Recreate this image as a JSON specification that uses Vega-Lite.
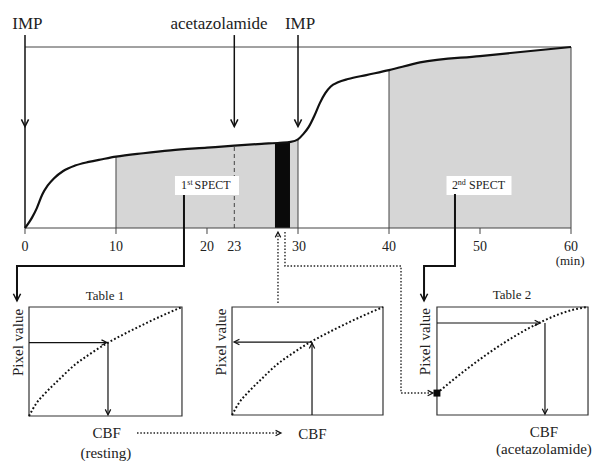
{
  "$schema": "https://vega.github.io/schema/vega-lite/v6.json",
  "width": 596,
  "height": 461,
  "autosize": {"type": "fit", "contains": "padding"},
  "padding": 0,
  "background": "white",
  "config": {"view": {"stroke": null}, "font": "Liberation Serif, Times New Roman, serif", "text": {"font": "Liberation Serif, Times New Roman, serif"}},
  "datasets": {
    "curve": [
      {"x": 0, "y": 0}, {"x": 0.5, "y": 3.5}, {"x": 0.8, "y": 6}, {"x": 1.3, "y": 11}, {"x": 1.9, "y": 18.5},
      {"x": 2.5, "y": 23.5}, {"x": 3.2, "y": 27.5}, {"x": 4.2, "y": 31.5}, {"x": 5.5, "y": 34.5}, {"x": 7, "y": 36.5},
      {"x": 8.5, "y": 38}, {"x": 10, "y": 39.4}, {"x": 13, "y": 41.3}, {"x": 16, "y": 42.9}, {"x": 20, "y": 44.4},
      {"x": 23, "y": 45.5}, {"x": 26, "y": 46.5}, {"x": 28, "y": 47.1}, {"x": 29.2, "y": 47.6}, {"x": 30, "y": 49},
      {"x": 30.6, "y": 52}, {"x": 31.2, "y": 56}, {"x": 31.8, "y": 62}, {"x": 32.4, "y": 69}, {"x": 33, "y": 74.5},
      {"x": 33.6, "y": 78.2}, {"x": 34.4, "y": 80.5}, {"x": 35.5, "y": 82.3}, {"x": 37.5, "y": 84.5}, {"x": 40, "y": 87.2},
      {"x": 43.4, "y": 91.5}, {"x": 50, "y": 95}, {"x": 55, "y": 97.5}, {"x": 60, "y": 100}
    ],
    "shade": [
      {"x": 10, "y": 39.4, "r": "a"}, {"x": 13, "y": 41.3, "r": "a"}, {"x": 16, "y": 42.9, "r": "a"}, {"x": 20, "y": 44.4, "r": "a"},
      {"x": 23, "y": 45.5, "r": "a"}, {"x": 26, "y": 46.5, "r": "a"}, {"x": 28, "y": 47.1, "r": "a"}, {"x": 29.2, "y": 47.6, "r": "a"},
      {"x": 30, "y": 49, "r": "a"},
      {"x": 40, "y": 87.2, "r": "b"}, {"x": 43.4, "y": 91.5, "r": "b"}, {"x": 50, "y": 95, "r": "b"}, {"x": 55, "y": 97.5, "r": "b"},
      {"x": 60, "y": 100, "r": "b"}
    ],
    "seg": [
      {"x": 0, "y": 100, "x2": 60, "y2": 100, "k": "thin"},
      {"x": 0, "y": 0, "x2": 60, "y2": 0, "k": "thin"},
      {"x": 60, "y": 0, "x2": 60, "y2": 100, "k": "thin"},
      {"x": 10, "y": 0, "x2": 10, "y2": 39.4, "k": "thin"},
      {"x": 30, "y": 0, "x2": 30, "y2": 49, "k": "thin"},
      {"x": 40, "y": 0, "x2": 40, "y2": 87.2, "k": "thin"},
      {"x": 0, "y": 0, "x2": 0, "y2": -3.3, "k": "thin"},
      {"x": 10, "y": 0, "x2": 10, "y2": -3.3, "k": "thin"},
      {"x": 20, "y": 0, "x2": 20, "y2": -3.3, "k": "thin"},
      {"x": 30, "y": 0, "x2": 30, "y2": -3.3, "k": "thin"},
      {"x": 40, "y": 0, "x2": 40, "y2": -3.3, "k": "thin"},
      {"x": 50, "y": 0, "x2": 50, "y2": -3.3, "k": "thin"},
      {"x": 60, "y": 0, "x2": 60, "y2": -3.3, "k": "thin"},
      {"x": 0, "y": 106.6, "x2": 0, "y2": 0, "k": "arrow"},
      {"x": 23, "y": 106.6, "x2": 23, "y2": 56.2, "k": "arrow"},
      {"x": 30, "y": 106.6, "x2": 30, "y2": 56.2, "k": "arrow"},
      {"x": 23, "y": 0, "x2": 23, "y2": 45.5, "k": "dash"},
      {"x": 0.44, "y": -63.3, "x2": 8.9, "y2": -63.3, "k": "parrow"},
      {"x": 9.12, "y": -63.3, "x2": 9.12, "y2": -103.0, "k": "parrow"},
      {"x": 31.54, "y": -103.31, "x2": 31.54, "y2": -63.2, "k": "parrow"},
      {"x": 31.54, "y": -63.0, "x2": 23.1, "y2": -63.0, "k": "parrow"},
      {"x": 45.27, "y": -52.49, "x2": 56.45, "y2": -52.49, "k": "parrow"},
      {"x": 57.14, "y": -52.49, "x2": 57.14, "y2": -102.6, "k": "parrow"}
    ],
    "paths": [
      {"p": "P1", "o": 1, "x": 17.47, "y": 18.2, "k": "solid"},
      {"p": "P1", "o": 2, "x": 17.47, "y": -21.0, "k": "solid"},
      {"p": "P1", "o": 3, "x": -0.88, "y": -21.0, "k": "solid"},
      {"p": "P1", "o": 4, "x": -0.88, "y": -40.0, "k": "solid"},
      {"p": "P2", "o": 1, "x": 47.25, "y": 18.8, "k": "solid"},
      {"p": "P2", "o": 2, "x": 47.25, "y": -21.0, "k": "solid"},
      {"p": "P2", "o": 3, "x": 43.85, "y": -21.0, "k": "solid"},
      {"p": "P2", "o": 4, "x": 43.85, "y": -40.0, "k": "solid"},
      {"p": "D1", "o": 1, "x": 27.8, "y": -41.4, "k": "dot"},
      {"p": "D1", "o": 2, "x": 27.8, "y": -2.6, "k": "dot"},
      {"p": "D2", "o": 1, "x": 28.57, "y": -2.2, "k": "dot"},
      {"p": "D2", "o": 2, "x": 28.57, "y": -21.0, "k": "dot"},
      {"p": "D2", "o": 3, "x": 41.32, "y": -21.0, "k": "dot"},
      {"p": "D2", "o": 4, "x": 41.32, "y": -91.2, "k": "dot"},
      {"p": "D2", "o": 5, "x": 44.7, "y": -91.2, "k": "dot"},
      {"p": "D3", "o": 1, "x": 12.31, "y": -113.3, "k": "dot"},
      {"p": "D3", "o": 2, "x": 28.0, "y": -113.3, "k": "dot"},
      {"p": "C1", "o": 1, "x": 0.44, "y": -103.87, "k": "curve"},
      {"p": "C1", "o": 2, "x": 1.28, "y": -96.64, "k": "curve"},
      {"p": "C1", "o": 3, "x": 2.12, "y": -91.83, "k": "curve"},
      {"p": "C1", "o": 4, "x": 3.8, "y": -83.4, "k": "curve"},
      {"p": "C1", "o": 5, "x": 5.48, "y": -75.57, "k": "curve"},
      {"p": "C1", "o": 6, "x": 7.16, "y": -69.54, "k": "curve"},
      {"p": "C1", "o": 7, "x": 8.85, "y": -64.12, "k": "curve"},
      {"p": "C1", "o": 8, "x": 10.53, "y": -59.55, "k": "curve"},
      {"p": "C1", "o": 9, "x": 12.21, "y": -55.27, "k": "curve"},
      {"p": "C1", "o": 10, "x": 13.89, "y": -51.18, "k": "curve"},
      {"p": "C1", "o": 11, "x": 15.57, "y": -47.32, "k": "curve"},
      {"p": "C1", "o": 12, "x": 17.25, "y": -43.65, "k": "curve"},
      {"p": "C2", "o": 1, "x": 22.75, "y": -103.31, "k": "curve"},
      {"p": "C2", "o": 2, "x": 23.58, "y": -96.15, "k": "curve"},
      {"p": "C2", "o": 3, "x": 24.41, "y": -91.38, "k": "curve"},
      {"p": "C2", "o": 4, "x": 26.07, "y": -83.03, "k": "curve"},
      {"p": "C2", "o": 5, "x": 27.73, "y": -75.27, "k": "curve"},
      {"p": "C2", "o": 6, "x": 29.39, "y": -69.3, "k": "curve"},
      {"p": "C2", "o": 7, "x": 31.05, "y": -63.93, "k": "curve"},
      {"p": "C2", "o": 8, "x": 32.7, "y": -59.4, "k": "curve"},
      {"p": "C2", "o": 9, "x": 34.36, "y": -55.17, "k": "curve"},
      {"p": "C2", "o": 10, "x": 36.02, "y": -51.11, "k": "curve"},
      {"p": "C2", "o": 11, "x": 37.68, "y": -47.29, "k": "curve"},
      {"p": "C2", "o": 12, "x": 39.34, "y": -43.65, "k": "curve"},
      {"p": "C3", "o": 1, "x": 45.27, "y": -91.33, "k": "curve"},
      {"p": "C3", "o": 2, "x": 46.93, "y": -84.37, "k": "curve"},
      {"p": "C3", "o": 3, "x": 48.59, "y": -77.79, "k": "curve"},
      {"p": "C3", "o": 4, "x": 50.25, "y": -71.59, "k": "curve"},
      {"p": "C3", "o": 5, "x": 51.91, "y": -65.82, "k": "curve"},
      {"p": "C3", "o": 6, "x": 53.57, "y": -60.53, "k": "curve"},
      {"p": "C3", "o": 7, "x": 55.23, "y": -55.71, "k": "curve"},
      {"p": "C3", "o": 8, "x": 56.89, "y": -51.47, "k": "curve"},
      {"p": "C3", "o": 9, "x": 58.55, "y": -47.89, "k": "curve"},
      {"p": "C3", "o": 10, "x": 60.21, "y": -45.18, "k": "curve"},
      {"p": "C3", "o": 11, "x": 61.87, "y": -43.65, "k": "curve"}
    ],
    "heads": [
      {"x": 0, "y": 56.0, "dir": "down", "k": "big"},
      {"x": 23, "y": 56.0, "dir": "down", "k": "big"},
      {"x": 30, "y": 56.0, "dir": "down", "k": "big"},
      {"x": -0.88, "y": -40.3, "dir": "down", "k": "big"},
      {"x": 43.85, "y": -40.3, "dir": "down", "k": "big"},
      {"x": 27.8, "y": -2.2, "dir": "up", "k": "small"},
      {"x": 44.84, "y": -91.2, "dir": "right", "k": "small"},
      {"x": 28.13, "y": -113.3, "dir": "right", "k": "small"},
      {"x": 9.0, "y": -63.3, "dir": "right", "k": "small"},
      {"x": 9.12, "y": -103.2, "dir": "down", "k": "small"},
      {"x": 31.54, "y": -63.6, "dir": "up", "k": "small"},
      {"x": 22.97, "y": -63.0, "dir": "left", "k": "small"},
      {"x": 56.6, "y": -52.49, "dir": "right", "k": "small"},
      {"x": 57.14, "y": -102.8, "dir": "down", "k": "small"}
    ],
    "boxes": [
      {"x": 27.47, "x2": 29.12, "y": 0, "y2": 47.0, "k": "bar"},
      {"x": 16.48, "x2": 23.52, "y": 18.23, "y2": 28.73, "k": "label"},
      {"x": 46.32, "x2": 53.46, "y": 18.23, "y2": 28.73, "k": "label"},
      {"x": 0.44, "x2": 17.25, "y": -43.65, "y2": -103.87, "k": "panel"},
      {"x": 22.75, "x2": 39.34, "y": -43.65, "y2": -103.31, "k": "panel"},
      {"x": 45.27, "x2": 61.87, "y": -43.65, "y2": -103.31, "k": "panel"},
      {"x": 44.89, "x2": 45.65, "y": -89.27, "y2": -93.13, "k": "square"}
    ],
    "labels": [
      {"x": 0.27, "y": 110.2, "text": "IMP", "role": "event"},
      {"x": 21.32, "y": 110.2, "text": "acetazolamide", "role": "event"},
      {"x": 30.22, "y": 110.2, "text": "IMP", "role": "event"},
      {"x": 0, "y": -10.5, "text": "0", "role": "tick"},
      {"x": 10, "y": -10.5, "text": "10", "role": "tick"},
      {"x": 20, "y": -10.5, "text": "20", "role": "tick"},
      {"x": 23, "y": -10.5, "text": "23", "role": "tick"},
      {"x": 30.1, "y": -10.5, "text": "30", "role": "tick"},
      {"x": 40, "y": -10.5, "text": "40", "role": "tick"},
      {"x": 50, "y": -10.5, "text": "50", "role": "tick"},
      {"x": 60, "y": -10.5, "text": "60", "role": "tick"},
      {"x": 59.9, "y": -18.4, "text": "(min)", "role": "unit"},
      {"x": 17.14, "y": 21.8, "text": "1", "role": "spect"},
      {"x": 18.63, "y": 21.8, "text": "SPECT", "role": "spect"},
      {"x": 46.92, "y": 21.8, "text": "2", "role": "spect"},
      {"x": 48.79, "y": 21.8, "text": "SPECT", "role": "spect"},
      {"x": 17.84, "y": 24.0, "text": "st", "role": "sup"},
      {"x": 47.56, "y": 24.0, "text": "nd", "role": "sup"},
      {"x": 8.79, "y": -37.57, "text": "Table 1", "role": "title"},
      {"x": 53.52, "y": -37.02, "text": "Table 2", "role": "title"},
      {"x": -0.77, "y": -63.26, "text": "Pixel value", "role": "ylab"},
      {"x": 21.5, "y": -63.0, "text": "Pixel value", "role": "ylab"},
      {"x": 43.96, "y": -62.8, "text": "Pixel value", "role": "ylab"},
      {"x": 8.98, "y": -113.3, "text": "CBF", "role": "cbf"},
      {"x": 8.88, "y": -124.3, "text": "(resting)", "role": "cbf"},
      {"x": 31.59, "y": -113.8, "text": "CBF", "role": "cbf"},
      {"x": 57.03, "y": -112.7, "text": "CBF", "role": "cbf"},
      {"x": 57.03, "y": -122.1, "text": "(acetazolamide)", "role": "cbf"}
    ]
  },
  "encoding": {
    "x": {"field": "x", "type": "quantitative", "scale": {"domain": [-2.747, 62.747], "nice": false, "zero": false}, "axis": null},
    "y": {"field": "y", "type": "quantitative", "scale": {"domain": [-128.73, 125.97], "nice": false, "zero": false}, "axis": null}
  },
  "layer": [
    {
      "data": {"name": "shade"},
      "mark": {"type": "area", "color": "#d6d6d6", "interpolate": "monotone"},
      "encoding": {"y2": {"datum": 0}, "detail": {"field": "r", "type": "nominal"}}
    },
    {
      "data": {"name": "boxes"},
      "transform": [{"filter": "datum.k == 'bar'"}],
      "mark": {"type": "rect", "color": "#0a0a0a"},
      "encoding": {"x2": {"field": "x2"}, "y2": {"field": "y2"}}
    },
    {
      "data": {"name": "seg"},
      "transform": [{"filter": "datum.k == 'thin'"}],
      "mark": {"type": "rule", "color": "#444444", "strokeWidth": 1},
      "encoding": {"x2": {"field": "x2"}, "y2": {"field": "y2"}}
    },
    {
      "data": {"name": "seg"},
      "transform": [{"filter": "datum.k == 'dash'"}],
      "mark": {"type": "rule", "color": "#444444", "strokeWidth": 1, "strokeDash": [4, 3]},
      "encoding": {"x2": {"field": "x2"}, "y2": {"field": "y2"}}
    },
    {
      "data": {"name": "curve"},
      "mark": {"type": "line", "color": "#111111", "strokeWidth": 2.2, "interpolate": "monotone"},
      "encoding": {}
    },
    {
      "data": {"name": "boxes"},
      "transform": [{"filter": "datum.k == 'label'"}],
      "mark": {"type": "rect", "color": "white"},
      "encoding": {"x2": {"field": "x2"}, "y2": {"field": "y2"}}
    },
    {
      "data": {"name": "seg"},
      "transform": [{"filter": "datum.k == 'arrow'"}],
      "mark": {"type": "rule", "color": "#111111", "strokeWidth": 1.5},
      "encoding": {"x2": {"field": "x2"}, "y2": {"field": "y2"}}
    },
    {
      "data": {"name": "paths"},
      "transform": [{"filter": "datum.k == 'solid'"}],
      "mark": {"type": "line", "color": "#111111", "strokeWidth": 2},
      "encoding": {"detail": {"field": "p", "type": "nominal"}, "order": {"field": "o", "type": "quantitative"}}
    },
    {
      "data": {"name": "paths"},
      "transform": [{"filter": "datum.k == 'dot'"}],
      "mark": {"type": "line", "color": "#222222", "strokeWidth": 1.4, "strokeDash": [1.5, 1.8]},
      "encoding": {"detail": {"field": "p", "type": "nominal"}, "order": {"field": "o", "type": "quantitative"}}
    },
    {
      "data": {"name": "boxes"},
      "transform": [{"filter": "datum.k == 'panel'"}],
      "mark": {"type": "rect", "filled": false, "stroke": "#333333", "strokeWidth": 1.2},
      "encoding": {"x2": {"field": "x2"}, "y2": {"field": "y2"}}
    },
    {
      "data": {"name": "paths"},
      "transform": [{"filter": "datum.k == 'curve'"}],
      "mark": {"type": "line", "color": "#111111", "strokeWidth": 2, "strokeDash": [1.8, 2.2], "interpolate": "monotone"},
      "encoding": {"detail": {"field": "p", "type": "nominal"}, "order": {"field": "o", "type": "quantitative"}}
    },
    {
      "data": {"name": "seg"},
      "transform": [{"filter": "datum.k == 'parrow'"}],
      "mark": {"type": "rule", "color": "#111111", "strokeWidth": 1.2},
      "encoding": {"x2": {"field": "x2"}, "y2": {"field": "y2"}}
    },
    {
      "data": {"name": "heads"},
      "transform": [{"filter": "datum.k == 'big'"}],
      "mark": {"type": "point", "filled": false, "stroke": "#111111", "strokeWidth": 1.5, "size": 64, "opacity": 1},
      "encoding": {
        "shape": {"field": "dir", "type": "nominal", "legend": null,
          "scale": {"domain": ["down", "up", "left", "right"],
            "range": ["M-0.9,-1.8L0,0L0.9,-1.8", "M-0.9,1.8L0,0L0.9,1.8", "M1.8,-0.9L0,0L1.8,0.9", "M-1.8,-0.9L0,0L-1.8,0.9"]}}
      }
    },
    {
      "data": {"name": "heads"},
      "transform": [{"filter": "datum.k == 'small'"}],
      "mark": {"type": "point", "filled": false, "stroke": "#111111", "strokeWidth": 1.2, "size": 36, "opacity": 1},
      "encoding": {
        "shape": {"field": "dir", "type": "nominal", "legend": null,
          "scale": {"domain": ["down", "up", "left", "right"],
            "range": ["M-0.9,-1.8L0,0L0.9,-1.8", "M-0.9,1.8L0,0L0.9,1.8", "M1.8,-0.9L0,0L1.8,0.9", "M-1.8,-0.9L0,0L-1.8,0.9"]}}
      }
    },
    {
      "data": {"name": "boxes"},
      "transform": [{"filter": "datum.k == 'square'"}],
      "mark": {"type": "rect", "color": "#0a0a0a"},
      "encoding": {"x2": {"field": "x2"}, "y2": {"field": "y2"}}
    },
    {
      "data": {"name": "labels"},
      "transform": [{"filter": "datum.role == 'event'"}],
      "mark": {"type": "text", "font": "Liberation Serif, Times New Roman, serif", "fontSize": 17, "color": "#222222", "align": "center", "baseline": "alphabetic"},
      "encoding": {"text": {"field": "text"}}
    },
    {
      "data": {"name": "labels"},
      "transform": [{"filter": "datum.role == 'tick'"}],
      "mark": {"type": "text", "font": "Liberation Serif, Times New Roman, serif", "fontSize": 14, "color": "#222222", "align": "center", "baseline": "middle"},
      "encoding": {"text": {"field": "text"}}
    },
    {
      "data": {"name": "labels"},
      "transform": [{"filter": "datum.role == 'unit'"}],
      "mark": {"type": "text", "font": "Liberation Serif, Times New Roman, serif", "fontSize": 13, "color": "#222222", "align": "center", "baseline": "middle"},
      "encoding": {"text": {"field": "text"}}
    },
    {
      "data": {"name": "labels"},
      "transform": [{"filter": "datum.role == 'spect'"}],
      "mark": {"type": "text", "font": "Liberation Serif, Times New Roman, serif", "fontSize": 12, "color": "#222222", "align": "left", "baseline": "alphabetic"},
      "encoding": {"text": {"field": "text"}}
    },
    {
      "data": {"name": "labels"},
      "transform": [{"filter": "datum.role == 'sup'"}],
      "mark": {"type": "text", "font": "Liberation Serif, Times New Roman, serif", "fontSize": 8, "color": "#222222", "align": "left", "baseline": "alphabetic"},
      "encoding": {"text": {"field": "text"}}
    },
    {
      "data": {"name": "labels"},
      "transform": [{"filter": "datum.role == 'title'"}],
      "mark": {"type": "text", "font": "Liberation Serif, Times New Roman, serif", "fontSize": 13, "color": "#222222", "align": "center", "baseline": "middle"},
      "encoding": {"text": {"field": "text"}}
    },
    {
      "data": {"name": "labels"},
      "transform": [{"filter": "datum.role == 'ylab'"}],
      "mark": {"type": "text", "font": "Liberation Serif, Times New Roman, serif", "fontSize": 15, "color": "#222222", "align": "center", "baseline": "middle", "angle": 270},
      "encoding": {"text": {"field": "text"}}
    },
    {
      "data": {"name": "labels"},
      "transform": [{"filter": "datum.role == 'cbf'"}],
      "mark": {"type": "text", "font": "Liberation Serif, Times New Roman, serif", "fontSize": 15, "color": "#222222", "align": "center", "baseline": "middle"},
      "encoding": {"text": {"field": "text"}}
    }
  ]
}
